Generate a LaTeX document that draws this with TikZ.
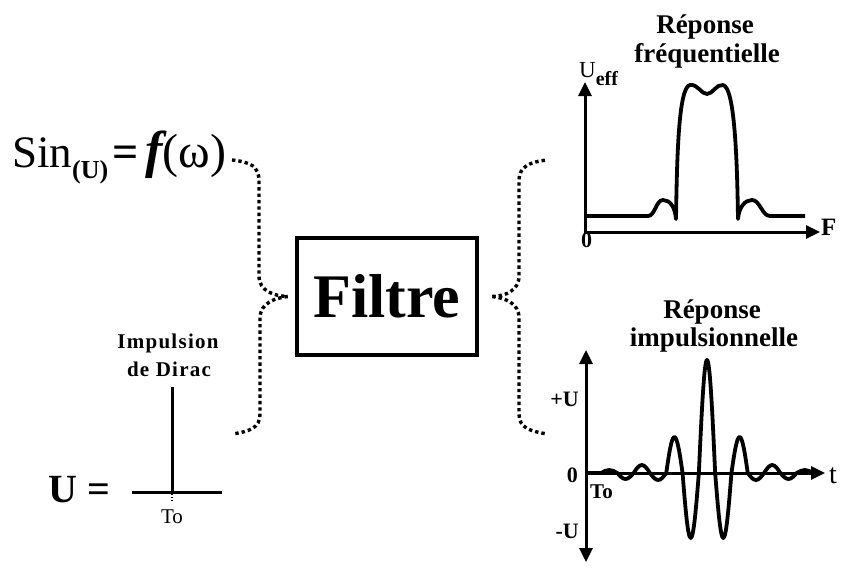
\documentclass[tikz,border=0pt]{standalone}
\usepackage{fontspec}
\setmainfont{Liberation Serif}
\usetikzlibrary{arrows.meta}
\begin{document}
\begin{tikzpicture}[x=1pt,y=-1pt,
  dots/.style={line width=3.4pt, dash pattern=on 3.4pt off 3pt},
  axis/.style={line width=3pt},
  curve/.style={line width=3.8pt, line join=round},
  tipend/.style={-{Triangle[length=14pt,width=13pt]}},
  tipboth/.style={{Triangle[length=14pt,width=13pt]}-{Triangle[length=14pt,width=13pt]}},
  lbl/.style={inner sep=0pt, font=\fontsize{22}{22}\selectfont\bfseries},
  ttl/.style={inner sep=0pt, anchor=base, font=\fontsize{27}{27}\selectfont\bfseries}]
\useasboundingbox[fill=white] (0,0) rectangle (845,571);

% Filter box
\node[draw, line width=4.5pt, minimum width=180pt, minimum height=117pt, inner sep=0pt,
      font=\fontsize{62}{62}\selectfont\bfseries] (filtre) at (387,296.5) {Filtre};

% Left side texts
\node[inner sep=0pt, anchor=base west] (sin) at (12,167)
  {{\fontsize{45}{45}\selectfont Sin}{\fontsize{26}{26}\selectfont\bfseries\raisebox{-11pt}{(U)}}\hspace{4pt}{\fontsize{46}{46}\selectfont\bfseries =}\hspace{7pt}{\fontsize{52}{52}\selectfont\bfseries\itshape f}{\fontsize{48}{48}\selectfont (ω)}};
\node[inner sep=0pt, anchor=base west, font=\fontsize{40}{40}\selectfont\bfseries] (ueq) at (48,502) {U =};
\node[inner sep=0pt, anchor=base, font=\fontsize{21}{21}\selectfont\bfseries\addfontfeature{LetterSpace=6}] (imp1) at (168,348) {Impulsion};
\node[inner sep=0pt, anchor=base, font=\fontsize{21}{21}\selectfont\bfseries\addfontfeature{LetterSpace=6}] (imp2) at (169,376) {de Dirac};
\node[inner sep=0pt, anchor=base, font=\fontsize{21}{21}\selectfont] (to1) at (172,523) {To};

% Dirac pulse
\coordinate (dtop) at (172,387);
\coordinate (dfoot) at (172,492);
\coordinate (dl) at (132,492);
\coordinate (dr) at (222,492);
\draw[axis] (dtop) -- (dfoot);
\draw[axis] (dl) -- (dr);
\draw[line width=1.5pt, dash pattern=on 1.5pt off 1.5pt] ([yshift=-1.5pt]dfoot) -- ([yshift=-9pt]dfoot);

% Brace coordinates
\coordinate (sL) at (232,160);
\coordinate (cL) at ([xshift=-7pt]filtre.west);
\coordinate (dL) at (233,434);
\coordinate (cR) at ([xshift=13pt]filtre.east);
\coordinate (fR) at (547,160);
\coordinate (iR) at (547,434);

\draw[dots] (sL) .. controls (250,162) and (259,166) .. (259,181) -- (259,276)
  .. controls (259,291) and (274,296) .. (cL);
\draw[dots] (cL) .. controls (275,298) and (260,303) .. (260,318) -- (260,414)
  .. controls (260,428) and (250,431) .. (dL);
\draw[dots] (cR) .. controls (505,296) and (519,291) .. (519,276) -- (519,181)
  .. controls (519,166) and (530,162) .. (fR);
\draw[dots] (cR) .. controls (505,298) and (519,303) .. (519,318) -- (519,414)
  .. controls (519,428) and (530,431) .. (iR);

% Frequency response
\node[ttl] (rf1) at (705,33) {Réponse};
\node[ttl] (rf2) at (707,62) {fréquentielle};
\node[inner sep=0pt, anchor=base west] (ueff) at (579,77)
  {{\fontsize{23}{23}\selectfont U}{\fontsize{20}{20}\selectfont\bfseries\raisebox{-8pt}{eff}}};
\node[lbl, anchor=base west] (zf) at (581,247) {0};
\node[inner sep=0pt, anchor=base west, font=\fontsize{25}{25}\selectfont\bfseries] (F) at (821,235) {F};
\coordinate (fo) at (585,232);
\draw[axis, tipend] (fo) -- (585,82);
\draw[axis, tipend] ([xshift=-1.5pt]fo) -- (820,232);
\draw[curve] (585,216) -- (648,216) .. controls (655,216) and (656,200) .. (663,200)
  .. controls (670,200) and (675,207) .. (676,219)
  .. controls (677,150) and (679,87) .. (690,85)
  .. controls (698,84) and (701,94) .. (707,94)
  .. controls (713,94) and (716,84) .. (723,85)
  .. controls (734,87) and (737,150) .. (738,219)
  .. controls (739,207) and (745,200) .. (752,200)
  .. controls (760,200) and (762,216) .. (770,216) -- (805,216);

% Impulse response
\node[ttl] (ri1) at (712,318) {Réponse};
\node[ttl] (ri2) at (714,346) {impulsionnelle};
\node[lbl, anchor=base east] (pu) at (579,406) {+U};
\node[lbl, anchor=base east] (z2) at (578,482) {0};
\node[lbl, anchor=base east] (mu) at (579,538) {-U};
\node[inner sep=0pt, anchor=base west, font=\fontsize{21}{21}\selectfont\bfseries] (to2) at (590,498) {To};
\node[inner sep=0pt, anchor=base west, font=\fontsize{28}{28}\selectfont] (t) at (829,483) {t};
\coordinate (io) at (586,473);
\draw[axis, tipboth] (586,562) -- (586,350);
\draw[axis, tipend] ([xshift=-1.5pt]io) -- (825,473);
\draw[curve] (io) -- (601.05,473) sin (609.2,470) cos (617.35,473) sin (625.5,479) cos (633.65,473)
  sin (641.8,465) cos (649.95,473) sin (658.1,480) cos (666.25,473)
  sin (674.4,437) cos (682.55,473) sin (690.7,538) cos (698.85,473)
  sin (707,360) cos (715.15,473) sin (723.3,538) cos (731.45,473)
  sin (739.6,437) cos (747.75,473) sin (755.9,480) cos (764.05,473)
  sin (772.2,465) cos (780.35,473) sin (788.5,479) cos (796.65,473)
  sin (804.8,470) cos (812.95,473) -- (818,473);
\end{tikzpicture}
\end{document}
